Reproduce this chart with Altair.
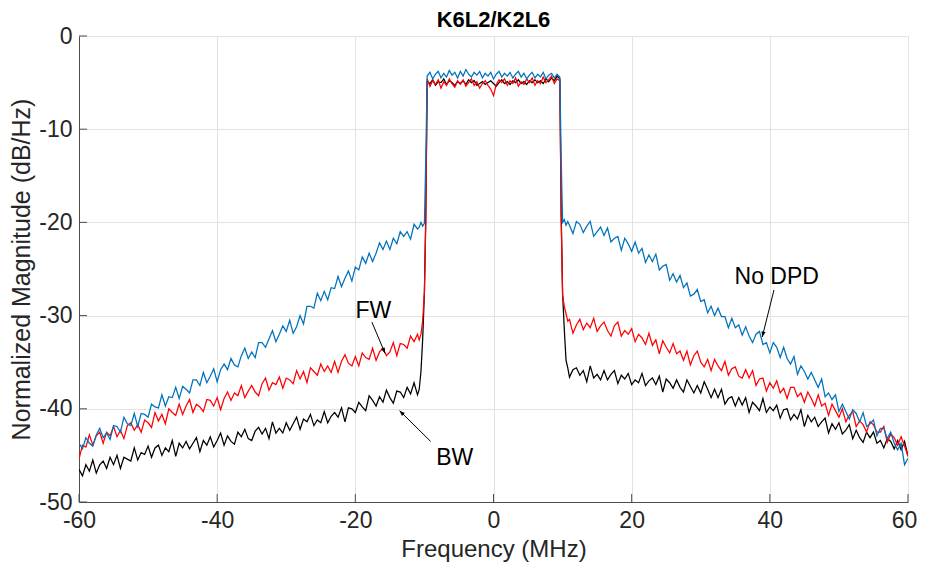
import altair as alt
import numpy as np
import pandas as pd

# ---------------- frequency grid (MHz) ----------------
freq_left = np.round(np.arange(-60.0, -10.9, 0.5), 2)          # 99 pts
freq_edge_l = [-10.75, -10.5, -10.25, -10.0, -9.8]
freq_pass = np.round(np.arange(-9.6, 9.61, 0.4), 2)             # 49 pts
freq_edge_r = [9.8, 10.0, 10.25, 10.5, 10.75]
freq_right = np.round(np.arange(11.0, 60.01, 0.5), 2)           # 99 pts

# ---------------- No DPD (blue) ----------------
blue_left = [
    -43.7, -44.3, -43.1, -43.7, -44.0, -42.8, -42.1, -43.1, -42.6, -43.3,
    -41.8, -41.9, -42.5, -40.9, -41.6, -41.8, -40.5, -41.9, -40.5, -40.6,
    -40.9, -39.5, -39.8, -39.9, -38.5, -39.7, -38.7, -38.8, -37.7, -38.9,
    -37.6, -37.9, -38.3, -36.9, -36.9, -37.5, -36.1, -37.2, -36.5, -35.7,
    -37.1, -35.8, -35.2, -35.8, -34.6, -35.3, -35.5, -34.3, -33.5, -34.6,
    -33.9, -34.5, -32.9, -32.9, -33.4, -32.5, -31.6, -32.8, -32.0, -31.1,
    -31.7, -30.5, -31.9, -31.2, -30.0, -30.9, -29.0, -29.0, -29.2, -27.6,
    -28.4, -27.4, -28.3, -27.0, -27.1, -25.8, -26.9, -26.0, -25.2, -26.3,
    -24.8, -25.1, -23.7, -24.4, -23.3, -24.2, -23.3, -22.2, -22.9, -22.0,
    -22.9, -21.7, -22.3, -21.0, -21.5, -21.0, -21.8, -20.2, -20.7,
]
blue_edge_l = [-20.5, -20.0, -20.4, -20.1, -13.0]
blue_pass = [
    -4.3, -3.9, -4.6, -4.1, -3.8, -4.5, -4.0, -4.4, -3.7, -4.2,
    -3.9, -4.5, -3.8, -4.3, -3.6, -4.1, -4.4, -3.9, -4.2, -3.8,
    -4.5, -4.0, -4.3, -3.9, -4.6, -4.1, -3.8, -4.4, -4.0, -4.3,
    -3.9, -4.5, -4.1, -3.8, -4.4, -4.0, -4.6, -4.2, -3.9, -4.5,
    -4.1, -4.4, -3.9, -4.6, -4.2, -4.0, -4.5, -4.1, -4.4,
]
blue_edge_r = [-13.0, -20.0, -19.7, -20.3, -19.9]
blue_right = [
    -20.3, -21.2, -19.9, -20.2, -21.1, -20.4, -19.9, -21.5, -21.0, -20.5,
    -21.4, -20.6, -22.1, -21.7, -21.5, -23.0, -21.7, -22.3, -23.1, -22.1,
    -23.3, -22.8, -24.3, -23.5, -24.2, -23.4, -25.1, -24.7, -24.5, -26.2,
    -25.5, -26.4, -25.7, -27.0, -26.5, -27.9, -27.7, -27.2, -28.5, -28.3,
    -29.7, -29.0, -30.0, -29.2, -30.1, -30.1, -31.3, -30.3, -31.3, -31.0,
    -32.1, -31.2, -32.2, -32.9, -32.0, -31.7, -33.1, -32.9, -34.0, -32.9,
    -33.4, -34.5, -33.4, -34.6, -35.2, -34.4, -36.3, -35.4, -36.0, -36.8,
    -36.1, -36.9, -37.7, -36.8, -38.7, -38.3, -39.0, -38.5, -40.3, -39.5,
    -40.3, -41.1, -40.1, -40.5, -41.4, -40.4, -41.9, -41.6, -41.2, -42.9,
    -42.1, -42.1, -43.2, -42.5, -43.7, -44.4, -43.7, -46.0, -45.3,
]

# ---------------- FW (red) ----------------
red_left = [
    -45.4, -43.9, -44.1, -42.8, -43.9, -42.9, -42.5, -43.7, -42.5, -42.9,
    -41.9, -43.0, -42.3, -43.2, -41.8, -41.5, -42.3, -41.7, -42.5, -41.2,
    -41.5, -42.0, -40.4, -41.3, -40.6, -41.6, -40.0, -40.4, -40.7, -39.5,
    -40.6, -39.7, -39.0, -40.4, -39.5, -39.8, -40.3, -39.0, -39.1, -39.7,
    -38.8, -40.1, -38.9, -38.2, -39.1, -38.3, -38.6, -37.5, -38.8, -38.1,
    -37.5, -38.2, -38.6, -37.3, -36.7, -38.0, -37.2, -37.4, -36.6, -37.8,
    -36.7, -36.9, -37.3, -35.9, -36.8, -36.0, -37.2, -35.6, -36.0, -36.4,
    -35.2, -36.0, -35.4, -36.1, -34.9, -36.1, -34.9, -34.2, -35.1, -35.4,
    -34.4, -35.4, -34.0, -34.5, -34.7, -33.5, -34.8, -33.9, -33.5, -34.3,
    -33.9, -32.9, -34.3, -33.0, -33.1, -33.5, -32.2, -32.8, -32.0,
]
red_edge_l = [-32.6, -32.0, -30.5, -27.5, -20.0]
red_pass = [
    -4.6, -5.4, -4.8, -5.2, -4.7, -5.6, -4.9, -5.3, -4.6, -5.1,
    -5.5, -4.8, -5.2, -4.7, -5.4, -5.0, -4.6, -5.3, -4.9, -5.6,
    -5.1, -4.8, -5.3, -5.7, -6.4, -5.2, -4.7, -5.0, -4.6, -5.3,
    -4.8, -5.1, -4.5, -5.4, -4.9, -5.2, -4.6, -5.0, -4.5, -5.3,
    -4.8, -5.1, -4.4, -5.0, -4.7, -4.3, -5.1, -4.6, -4.8,
]
red_edge_r = [-20.0, -27.8, -29.0, -29.8, -30.6]
red_right = [
    -30.4, -31.9, -31.0, -30.4, -31.5, -30.8, -31.3, -30.3, -31.7, -31.1,
    -30.7, -31.6, -32.2, -31.1, -30.7, -32.2, -31.6, -32.0, -31.4, -32.8,
    -32.0, -32.4, -33.1, -31.9, -33.2, -32.6, -34.1, -32.7, -33.4, -34.0,
    -33.0, -34.1, -33.8, -34.8, -33.8, -35.3, -34.3, -33.8, -35.0, -35.5,
    -34.7, -35.9, -34.7, -35.4, -35.9, -34.9, -36.4, -35.7, -35.5, -36.5,
    -36.7, -35.8, -36.7, -35.9, -37.5, -36.8, -36.7, -38.1, -37.2, -37.8,
    -37.0, -38.3, -37.8, -38.9, -37.7, -37.7, -38.7, -38.3, -39.3, -38.2,
    -38.9, -39.7, -38.5, -39.7, -39.4, -40.7, -39.5, -40.2, -40.9, -40.0,
    -41.4, -40.7, -40.3, -41.9, -41.3, -41.7, -42.5, -41.4, -41.7, -42.5,
    -42.5, -41.9, -43.6, -42.7, -43.1, -43.9, -43.0, -44.0, -43.2, -45.1,
]

# ---------------- BW (black) ----------------
black_left = [
    -46.5, -47.2, -46.0, -46.7, -45.5, -46.9, -46.0, -45.6, -46.4, -45.2,
    -46.0, -45.0, -46.4, -45.2, -45.4, -45.6, -44.2, -45.5, -44.7, -44.9,
    -44.0, -45.2, -44.2, -43.9, -45.0, -44.2, -44.6, -43.4, -45.1, -43.7,
    -44.2, -43.5, -44.3, -43.7, -43.1, -44.6, -43.4, -43.9, -43.0, -44.1,
    -43.4, -42.6, -43.9, -42.9, -43.5, -43.8, -42.5, -43.0, -42.2, -43.2,
    -43.4, -42.4, -42.0, -42.7, -42.1, -43.2, -41.4, -42.6, -42.1, -42.6,
    -41.5, -42.3, -41.6, -40.9, -42.2, -41.1, -41.4, -40.6, -41.8, -41.2,
    -41.5, -40.3, -41.5, -40.8, -40.4, -40.9, -39.9, -41.4, -39.9, -40.0,
    -40.4, -39.3, -39.8, -40.2, -38.6, -39.1, -39.7, -38.7, -39.3, -38.0,
    -38.8, -39.4, -38.1, -38.2, -38.8, -37.7, -38.4, -37.2, -38.5,
]
black_edge_l = [-37.9, -36.0, -32.5, -27.5, -19.0]
black_pass = [
    -4.9, -5.1, -4.7, -5.3, -4.9, -5.0, -4.6, -5.2, -4.8, -5.0,
    -5.3, -4.9, -5.1, -4.8, -5.2, -4.7, -5.0, -4.8, -5.3, -5.1,
    -4.9, -5.2, -5.0, -4.8, -5.1, -5.4, -5.0, -4.7, -5.1, -4.9,
    -5.2, -4.8, -5.0, -4.7, -5.1, -4.9, -5.2, -4.8, -5.0, -4.7,
    -5.0, -4.8, -5.1, -4.6, -4.9, -4.5, -4.8, -4.3, -4.6,
]
black_edge_r = [-19.0, -27.6, -31.5, -34.8, -35.6]
black_right = [
    -36.6, -35.8, -35.6, -36.4, -35.9, -37.1, -35.4, -36.7, -36.3, -36.9,
    -35.9, -36.9, -36.3, -35.9, -37.3, -36.4, -36.8, -36.2, -37.4, -36.9,
    -37.2, -36.2, -37.5, -37.0, -36.7, -37.4, -36.5, -38.2, -36.8, -37.2,
    -37.8, -36.9, -37.7, -38.2, -36.9, -37.6, -38.3, -37.5, -38.3, -37.1,
    -37.9, -38.8, -37.9, -38.8, -37.9, -39.5, -38.9, -38.7, -39.7, -38.8,
    -39.6, -38.8, -40.4, -39.3, -39.7, -40.2, -38.9, -40.4, -39.8, -40.2,
    -39.6, -41.0, -40.1, -40.0, -41.2, -40.6, -41.1, -40.1, -41.9, -40.7,
    -41.4, -40.9, -41.9, -41.4, -41.0, -42.6, -41.6, -42.2, -41.5, -42.7,
    -42.3, -41.7, -43.2, -42.3, -43.1, -43.6, -42.5, -43.1, -42.5, -43.7,
    -43.4, -44.2, -43.2, -43.5, -44.3, -43.4, -44.4, -43.5, -45.1,
]

# ---------------- annotations ----------------
title_text = "K6L2/K2L6"
ann_text = ["FW", "BW", "No DPD"]
ann_x = [-17.4, -5.6, 41.0]
ann_y = [-29.5, -45.3, -25.9]
arrow_x0 = [-17.6, -9.1, 40.6]
arrow_y0 = [-30.7, -43.5, -27.25]
arrow_x1 = [-15.7, -13.6, 38.9]
arrow_y1 = [-34.05, -40.2, -32.3]
arrow_angle = [157, 315, 194]

x_ticks = [-60, -40, -20, 0, 20, 40, 60]
y_ticks = [0, -10, -20, -30, -40, -50]

# ---------------- build table ----------------
freq = np.concatenate([freq_left, freq_edge_l, freq_pass, freq_edge_r, freq_right])
series = {
    "BW": black_left + black_edge_l + black_pass + black_edge_r + black_right,
    "FW": red_left + red_edge_l + red_pass + red_edge_r + red_right[:98] + red_right[99:],
    "No DPD": blue_left + blue_edge_l + blue_pass + blue_edge_r + blue_right,
}
frames = []
for order, (name, vals) in enumerate(series.items()):
    frames.append(pd.DataFrame({"freq": freq, "mag": vals, "series": name, "order": order}))
df = pd.concat(frames, ignore_index=True)

ann = pd.DataFrame({"text": ann_text, "x": ann_x, "y": ann_y})
arrows = pd.DataFrame({"x0": arrow_x0, "y0": arrow_y0, "x1": arrow_x1,
                       "y1": arrow_y1, "angle": arrow_angle})

W, H = 829, 466
FONT = "Liberation Sans"
TXT = "#262626"

xscale = alt.Scale(domain=[-60, 60], nice=False, zero=False)
yscale = alt.Scale(domain=[-50, 0], nice=False, zero=False)

common = dict(grid=True, gridColor="#e2e2e2", ticks=False, domainColor="#4d4d4d",
              labelFontSize=23, labelColor=TXT, titleColor=TXT,
              labelFont=FONT, titleFont=FONT, titleFontWeight="normal",
              labelPadding=7, labelFlush=False, labelExpr="'' + datum.value")
xaxis = alt.Axis(values=x_ticks, title="Frequency (MHz)", titlePadding=5, titleFontSize=24,
                 labelOffset={"condition": {"test": "datum.value == 60", "value": -4},
                              "value": 0},
                 **common)
yaxis = alt.Axis(values=y_ticks, title="Normalized Magnitude (dB/Hz)", titlePadding=4,
                 titleFontSize=25, **common)

lines = alt.Chart(df).mark_line(strokeWidth=1.25, clip=True).encode(
    x=alt.X("freq:Q", scale=xscale, axis=xaxis),
    y=alt.Y("mag:Q", scale=yscale, axis=yaxis),
    color=alt.Color("series:N", scale=alt.Scale(domain=["BW", "FW", "No DPD"],
                                                range=["#000000", "#ff0000", "#0072bd"]),
                    legend=None),
    order=alt.Order("order:Q"),
    detail="series:N",
)

xt = pd.DataFrame({"v": x_ticks})
yt = pd.DataFrame({"v": y_ticks})
xtick_marks = alt.Chart(xt).mark_rule(color="#4d4d4d", strokeWidth=1).encode(
    x=alt.X("v:Q", scale=xscale), y=alt.value(H), y2=alt.value(H - 8))
ytick_marks = alt.Chart(yt).mark_rule(color="#4d4d4d", strokeWidth=1).encode(
    y=alt.Y("v:Q", scale=yscale), x=alt.value(0), x2=alt.value(8))

shafts = alt.Chart(arrows).mark_rule(color="black", strokeWidth=1).encode(
    x=alt.X("x0:Q", scale=xscale), y=alt.Y("y0:Q", scale=yscale),
    x2="x1:Q", y2="y1:Q")
heads = alt.Chart(arrows).mark_point(
    shape="M0,0L-0.38,1L0.38,1Z", filled=True, color="black", opacity=1, size=120,
    strokeWidth=0).encode(
    x=alt.X("x1:Q", scale=xscale), y=alt.Y("y1:Q", scale=yscale),
    angle=alt.Angle("angle:Q", scale=None))
labels = alt.Chart(ann).mark_text(fontSize=23, font=FONT, color="black").encode(
    x=alt.X("x:Q", scale=xscale), y=alt.Y("y:Q", scale=yscale), text="text:N")

title = alt.Chart(pd.DataFrame({"t": [title_text]})).mark_text(
    fontSize=22, font=FONT, fontWeight="bold", color="black", baseline="alphabetic",
    align="center").encode(x=alt.value(W / 2), y=alt.value(-9), text="t:N")

chart = alt.layer(lines, xtick_marks, ytick_marks, shafts, heads, labels, title).properties(
    width=W, height=H,
    autosize=alt.AutoSizeParams(type="none"),
    padding={"left": 71, "top": 28, "right": 9, "bottom": 61},
).configure_view(stroke=None).configure(background="white")

chart.save("out.html", embed_options={"renderer": "svg", "actions": False})
